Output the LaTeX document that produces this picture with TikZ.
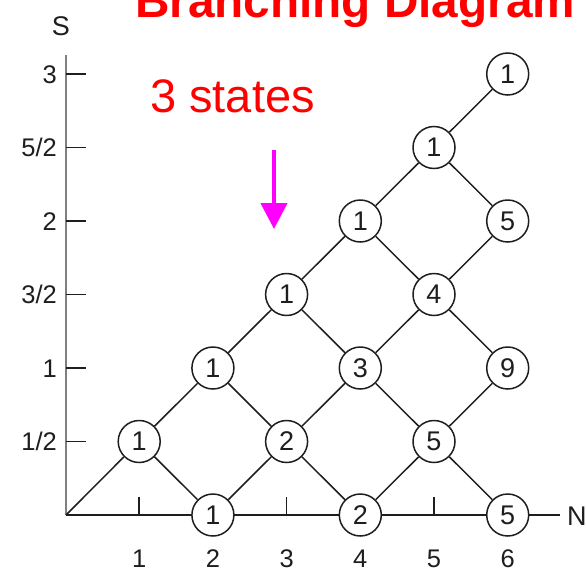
\documentclass[tikz,border=0pt]{standalone}
\usepackage{fontspec}
\setmainfont{Liberation Sans}
\usetikzlibrary{arrows.meta}
\definecolor{titlered}{RGB}{255,0,0}
\definecolor{arrowmag}{RGB}{255,0,255}
\definecolor{axisgray}{RGB}{128,128,128}
\definecolor{ink}{RGB}{30,30,30}
\begin{document}
\begin{tikzpicture}[x=1pt,y=-1pt,
  cnode/.style={circle, draw=ink, line width=1.5pt, fill=white, minimum size=42pt,
    inner sep=0pt, text=ink, font=\fontsize{27}{27}\selectfont},
  edgeline/.style={draw=ink, line width=1.5pt},
  tickline/.style={draw=ink, line width=1.5pt},
  axlab/.style={inner sep=0pt, text=ink, font=\fontsize{25.5}{25.5}\selectfont},
  axname/.style={inner sep=0pt, text=ink, font=\fontsize{27}{27}\selectfont}]
\useasboundingbox (0,0) rectangle (586,573);

% axes
\coordinate (O) at (66,515);
\coordinate (Nend) at (560,515);
\coordinate (Stop) at (66,55);
\draw[edgeline] (O) -- (Nend);
\draw[axisgray, line width=2.4pt] (Stop) -- (O);

% ticks on N axis
\foreach \n in {1,...,6}
  \draw[tickline] ({65.5+73.7*\n},515) -- ++(0,-18);
% ticks on S axis
\foreach \k in {1,...,6}
  \draw[tickline] (66,{515-73.5*\k}) -- ++(20,0);

% S labels
\foreach \k/\t in {1/1\slash 2, 2/1, 3/3\slash 2, 4/2, 5/5\slash 2, 6/3}
  \node[axlab, anchor=base east] (s\k) at (57,{515-73.5*\k+9.1}) {\t};
% N labels
\foreach \n in {1,...,6}
  \node[axlab, anchor=base] (nl\n) at ({65.5+73.7*\n},567) {\n};

% axis names
\node[axname, anchor=base] (Slab) at (61,35) {S};
\node[axname, anchor=base west] (Nlab) at (567,525) {N};

% circles
\foreach \n/\s/\v in {1/1/1, 2/0/1, 2/2/1, 3/1/2, 3/3/1, 4/0/2, 4/2/3, 4/4/1,
                      5/1/5, 5/3/4, 5/5/1, 6/0/5, 6/2/9, 6/4/5, 6/6/1}
  \node[cnode] (c\n-\s) at ({65.5+73.7*\n},{515-73.5*\s}) {\v};

% edges
\draw[edgeline] (O) -- (c1-1);
\foreach \a/\b in {c1-1/c2-2, c1-1/c2-0, c2-0/c3-1, c2-2/c3-3, c2-2/c3-1,
                   c3-1/c4-2, c3-1/c4-0, c3-3/c4-4, c3-3/c4-2,
                   c4-0/c5-1, c4-2/c5-3, c4-2/c5-1, c4-4/c5-5, c4-4/c5-3,
                   c5-1/c6-2, c5-1/c6-0, c5-3/c6-4, c5-3/c6-2, c5-5/c6-6, c5-5/c6-4}
  \draw[edgeline] (\a) -- (\b);

% title and annotation
\node[anchor=base west, inner sep=0pt, text=titlered,
      font=\fontsize{47.7}{48}\selectfont\bfseries] (title) at (135,17) {Branching Diagram};
\node[anchor=base west, inner sep=0pt, text=titlered,
      font=\fontsize{47}{47}\selectfont] (states) at (150,112) {3 states};

% magenta arrow
\coordinate (arrtop) at (274,150);
\coordinate (arrtip) at (274,229);
\draw[arrowmag, line width=4.3pt, -{Triangle[length=26pt,width=26pt]}] (arrtop) -- (arrtip);
\end{tikzpicture}
\end{document}
